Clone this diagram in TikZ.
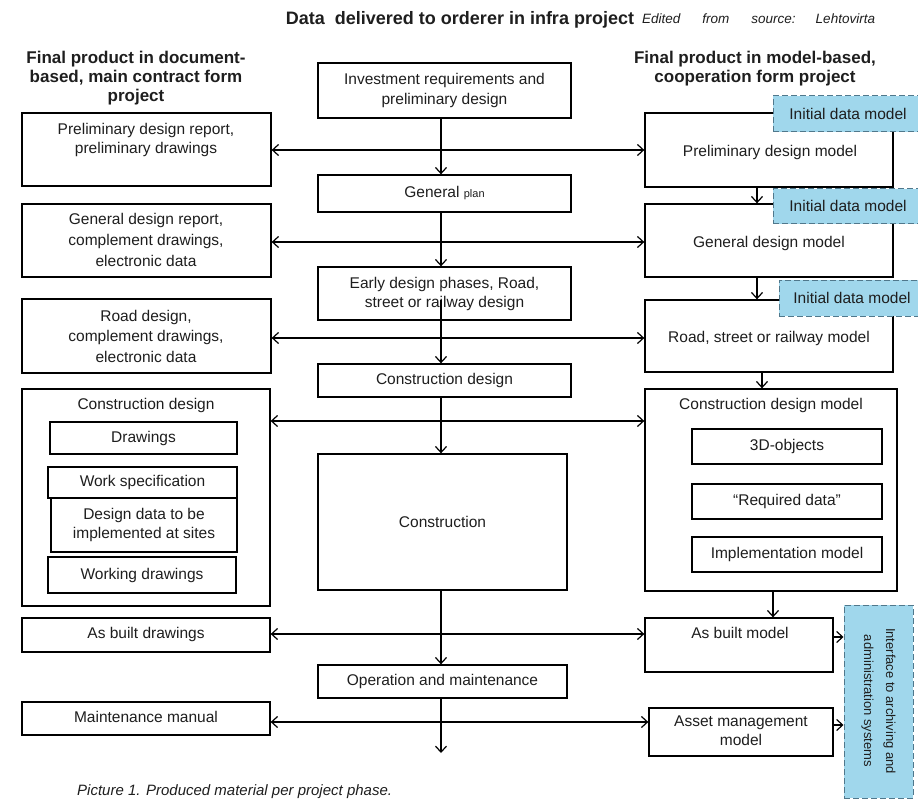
\documentclass[tikz,border=0pt]{standalone}
\usepackage{fontspec}
\setmainfont{Liberation Sans}
\usetikzlibrary{arrows.meta,calc}
\definecolor{initblue}{RGB}{160,215,236}
\definecolor{initedge}{RGB}{80,120,140}
\definecolor{ink}{RGB}{30,30,30}
\begin{document}
\begin{tikzpicture}[x=1pt,y=-1pt,
  box/.style={draw=black,line width=1.3pt,fill=white,inner sep=0pt},
  initbox/.style={draw=initedge,line width=1pt,dash pattern=on 6pt off 3pt,fill=initblue,inner sep=0pt},
  txt/.style={font=\fontsize{15.5}{19.5}\selectfont,text=ink,align=center,inner sep=0pt},
  head/.style={font=\bfseries\fontsize{17}{19}\selectfont,text=ink,align=center,inner sep=0pt},
  flow/.style={line width=1.2pt,-{Straight Barb[length=6pt,width=11pt]}},
  both/.style={line width=1.2pt,{Straight Barb[length=6pt,width=11pt]}-{Straight Barb[length=6pt,width=11pt]}}
]
\useasboundingbox (0,0) rectangle (918,805);

% box helper: [style] x1, y1, x2, y2, name
\newcommand{\bx}[6][box]{\node[#1,minimum width={#4-#2},minimum height={#5-#3}] (#6) at ({(#2+#4)/2},{(#3+#5)/2}) {};}

% titles
\node[head,font=\bfseries\fontsize{18}{20}\selectfont] (title) at (460,20) {Data\ \ delivered to orderer in infra project};
\node[txt,anchor=west,font=\itshape\fontsize{13.5}{15}\selectfont] (source) at (642,19) {Edited\hspace{22pt}from\hspace{22pt}source:\hspace{20pt}Lehtovirta};
\node[head] (lefthead) at (136,78) {Final product in document-\\based, main contract form\\project};
\node[head] (righthead) at (755,69) {Final product in model-based,\\cooperation form project};

% central column
\bx{318}{63}{571}{118}{inv}
\node[txt] (invt) at (inv) {Investment requirements and\\preliminary design};
\bx{318}{175}{571}{212}{gen}
\node[txt] (gent) at (gen) {General {\fontsize{11}{12}\selectfont plan}};
\bx{318}{267}{571}{320}{early}
\node[txt,font=\fontsize{15.5}{19}\selectfont] (earlyt) at (early) {Early design phases, Road,\\street or railway design};
\bx{318}{364}{571}{397}{cdes}
\node[txt] (cdest) at (cdes) {Construction design};
\bx{318}{454}{567}{590}{cons}
\node[txt] (const) at (cons) {Construction};
\bx{318}{665}{567}{698}{opm}
\node[txt] (opmt) at (opm) {Operation and maintenance};

% left column: document-based deliverables
\bx{22}{113}{271}{186}{L1}
\node[txt,font=\fontsize{15.5}{19}\selectfont] (L1t) at (146,139.5) {Preliminary design report,\\preliminary drawings};
\bx{22}{204}{271}{277}{L2}
\node[txt,font=\fontsize{15.5}{21}\selectfont] (L2t) at (146,240) {General design report,\\complement drawings,\\electronic data};
\bx{22}{299}{271}{373}{L3}
\node[txt,font=\fontsize{15.5}{20.5}\selectfont] (L3t) at (146,336) {Road design,\\complement drawings,\\electronic data};
\bx{22}{389}{270}{606}{L4}
\node[txt] (L4t) at (146,405) {Construction design};
\bx{50}{422}{237}{454}{Ld}
\node[txt] (Ldt) at (Ld) {Drawings};
\bx{48}{467}{237}{498}{Lw}
\node[txt] (Lwt) at (Lw) {Work specification};
\bx{51}{498}{237}{552}{Ls}
\node[txt,font=\fontsize{15.5}{19}\selectfont] (Lst) at (Ls) {Design data to be\\implemented at sites};
\bx{48}{557}{236}{593}{Lk}
\node[txt] (Lkt) at (Lk) {Working drawings};
\bx{22}{618}{270}{652}{L5}
\node[txt] (L5t) at (146,634) {As built drawings};
\bx{22}{702}{270}{735}{L6}
\node[txt] (L6t) at (146,717) {Maintenance manual};

% right column: model-based deliverables
\bx{645}{113}{893}{187}{R1}
\node[txt] (R1t) at (770,152) {Preliminary design model};
\bx{645}{204}{893}{277}{R2}
\node[txt] (R2t) at (769,243) {General design model};
\bx{645}{300}{893}{372}{R3}
\node[txt] (R3t) at (769,338) {Road, street or railway model};
\bx{645}{389}{897}{591}{R4}
\node[txt] (R4t) at (771,405) {Construction design model};
\bx{692}{429}{882}{464}{Ro}
\node[txt] (Rot) at (Ro) {3D-objects};
\bx{692}{484}{882}{519}{Rr}
\node[txt] (Rrt) at (Rr) {“Required data”};
\bx{692}{537}{882}{572}{Ri}
\node[txt] (Rit) at (Ri) {Implementation model};
\bx{645}{618}{833}{672}{R5}
\node[txt] (R5t) at (740,633) {As built model};
\bx{649}{708}{833}{756}{R6}
\node[txt,font=\fontsize{15.5}{19}\selectfont] (R6t) at (741,731) {Asset management\\model};

% initial data models
\bx[initbox]{773}{96}{920}{132}{B1}
\node[txt] (B1t) at (848,114) {Initial data model};
\bx[initbox]{773}{189}{920}{224}{B2}
\node[txt] (B2t) at (848,206) {Initial data model};
\bx[initbox]{779}{280}{920}{316}{B3}
\node[txt] (B3t) at (852,298) {Initial data model};
\bx[initbox]{844}{605}{913}{798}{IF}
\node[txt,rotate=-90,font=\fontsize{13}{22}\selectfont] (IFt) at (878.5,701) {Interface to archiving and\\administration systems};

% caption
\node[txt,anchor=west,font=\itshape\fontsize{15}{17}\selectfont] (cap) at (77,792) {Picture 1. Produced material per project phase.};

% central flow
\coordinate (cx) at (441,0);
\coordinate (endc) at (441,753);
\coordinate (mide) at (441,300);
\draw[flow] (inv.south -| cx) -- (gen.north -| cx);
\draw[flow] (gen.south -| cx) -- (early.north -| cx);
\draw[flow] (mide) -- (cdes.north -| cx);
\draw[flow] (cdes.south -| cx) -- (cons.north -| cx);
\draw[flow] (cons.south -| cx) -- (opm.north -| cx);
\draw[flow] (opm.south -| cx) -- (endc);

% deliverables per phase
\coordinate (h1) at (0,150);
\coordinate (h2) at (0,242);
\coordinate (h3) at (0,338);
\coordinate (h4) at (0,421);
\coordinate (h5) at (0,634);
\coordinate (h6) at (0,722);
\draw[both] (L1.east |- h1) -- (R1.west |- h1);
\draw[both] (L2.east |- h2) -- (R2.west |- h2);
\draw[both] (L3.east |- h3) -- (R3.west |- h3);
\draw[both] (L4.east |- h4) -- (R4.west |- h4);
\draw[both] (L5.east |- h5) -- (R5.west |- h5);
\draw[both] (L6.east |- h6) -- (R6.west |- h6);

% model progression
\coordinate (r1) at (757,0);
\coordinate (r3) at (762,0);
\coordinate (r4) at (773,0);
\draw[flow] (R1.south -| r1) -- (R2.north -| r1);
\draw[flow] (R2.south -| r1) -- (R3.north -| r1);
\draw[flow] (R3.south -| r3) -- (R4.north -| r3);
\draw[flow] (R4.south -| r4) -- (R5.north -| r4);

% links to the archive interface
\coordinate (i1) at (0,637);
\coordinate (i2) at (0,725);
\draw[flow] (R5.east |- i1) -- (IF.west |- i1);
\draw[flow] (R6.east |- i2) -- (IF.west |- i2);
\end{tikzpicture}
\end{document}
